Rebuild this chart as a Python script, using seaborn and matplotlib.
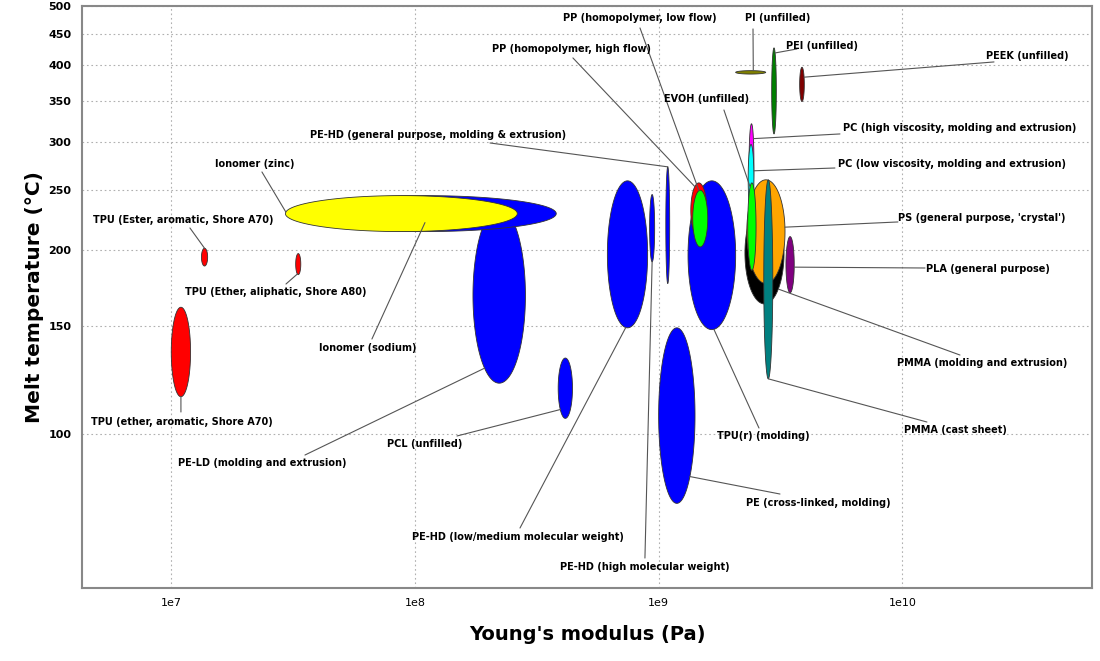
import numpy as np
import matplotlib
matplotlib.use("Agg")
import matplotlib.pyplot as plt
import matplotlib.ticker as mticker
import seaborn as sns

# material property ranges (Young's modulus in Pa, melt temperature in degC), in drawing order
materials = [
    "TPU (ether, aromatic, Shore A70)",
    "TPU (Ester, aromatic, Shore A70)",
    "TPU (Ether, aliphatic, Shore A80)",
    "PE-LD (molding and extrusion)",
    "Ionomer (sodium)",
    "Ionomer (zinc)",
    "PCL (unfilled)",
    "PE-HD (low/medium molecular weight)",
    "PE-HD (high molecular weight)",
    "PE-HD (general purpose, molding & extrusion)",
    "PE (cross-linked, molding)",
    "TPU(r) (molding)",
    "PP (homopolymer, high flow)",
    "PP (homopolymer, low flow)",
    "PMMA (molding and extrusion)",
    "PS (general purpose, 'crystal')",
    "PC (high viscosity, molding and extrusion)",
    "PC (low viscosity, molding and extrusion)",
    "EVOH (unfilled)",
    "PMMA (cast sheet)",
    "PLA (general purpose)",
    "PI (unfilled)",
    "PEI (unfilled)",
    "PEEK (unfilled)",
]
modulus_low = [1.0e7, 1.33e7, 3.24e7, 1.73e8, 3.18e7, 2.94e7, 3.87e8, 6.16e8, 9.18e8, 1.07e9,
               1.0e9, 1.32e9, 1.355e9, 1.38e9, 2.26e9, 2.30e9, 2.35e9, 2.33e9, 2.32e9, 2.70e9,
               3.33e9, 2.07e9, 2.91e9, 3.79e9]
modulus_high = [1.2e7, 1.41e7, 3.40e7, 2.84e8, 3.80e8, 2.63e8, 4.43e8, 9.01e8, 9.63e8, 1.11e9,
                1.41e9, 2.07e9, 1.577e9, 1.59e9, 3.27e9, 3.30e9, 2.46e9, 2.46e9, 2.51e9, 2.94e9,
                3.60e9, 2.75e9, 3.04e9, 3.96e9]
melt_low = [115, 188, 182, 121, 214, 214, 106, 149, 191, 176,
            77, 148, 209, 202, 163, 176, 240, 230, 185, 123,
            170, 387, 309, 349]
melt_high = [161, 201, 197, 234, 245, 245, 133, 259, 246, 273,
             149, 259, 257, 250, 239, 260, 321, 297, 257, 260,
             210, 392, 427, 397]

colors = ["#ff0000", "#ff0000", "#ff0000", "#0000ff", "#0000ff", "#ffff00", "#0000ff", "#0000ff",
          "#0000ff", "#0000ff", "#0000ff", "#0000ff", "#ff0000", "#00ff00", "#000000", "#ffa500",
          "#ff00ff", "#00ffff", "#00ff00", "#008080", "#800080", "#808000", "#008000", "#800000"]

# label layout: text position and leader start (axes fraction), leader end as angle/radius on ellipse
labels = [
    ("PP (homopolymer, low flow)", (0.5525, 0.9794), (0.5525, 0.9622), 100, 1.0, "center"),
    ("PI (unfilled)", (0.6891, 0.9794), (0.6644, 0.9605), 80, 1.0, "center"),
    ("PEI (unfilled)", (0.7327, 0.9313), (0.7079, 0.9261), 62, 1.0, "center"),
    ("PEEK (unfilled)", (0.9356, 0.9141), (0.9030, 0.9038), 25, 1.0, "center"),
    ("PP (homopolymer, high flow)", (0.4851, 0.9261), (0.4861, 0.9107), 120, 1.0, "center"),
    ("EVOH (unfilled)", (0.6188, 0.8402), (0.6356, 0.8213), 115, 1.0, "center"),
    ("PC (high viscosity, molding and extrusion)", (0.7535, 0.7904), (0.7505, 0.7801), 38, 1.0, "left"),
    ("PC (low viscosity, molding and extrusion)", (0.7485, 0.7285), (0.7455, 0.7216), 13, 1.0, "left"),
    ("PE-HD (general purpose, molding & extrusion)", (0.3525, 0.7784), (0.4040, 0.7646), 90, 1.0, "center"),
    ("Ionomer (zinc)", (0.1713, 0.7285), (0.1782, 0.7148), 175, 1.0, "center"),
    ("TPU (Ester, aromatic, Shore A70)", (0.1000, 0.6323), (0.1069, 0.6186), 90, 1.0, "center"),
    ("TPU (Ether, aliphatic, Shore A80)", (0.1921, 0.5086), (0.2020, 0.5223), 250, 1.0, "center"),
    ("TPU (ether, aromatic, Shore A70)", (0.0990, 0.2852), (0.0980, 0.3024), 270, 1.0, "center"),
    ("Ionomer (sodium)", (0.2832, 0.4124), (0.2871, 0.4278), 270, 0.5, "center"),
    ("PE-LD (molding and extrusion)", (0.1782, 0.2148), (0.2208, 0.2285), 236, 1.0, "center"),
    ("PCL (unfilled)", (0.3396, 0.2474), (0.3713, 0.2612), 225, 1.0, "center"),
    ("PE-HD (low/medium molecular weight)", (0.4317, 0.0876), (0.4337, 0.1031), 265, 1.0, "center"),
    ("PE-HD (high molecular weight)", (0.5574, 0.0361), (0.5574, 0.0515), 270, 1.0, "center"),
    ("PE (cross-linked, molding)", (0.7287, 0.1460), (0.6911, 0.1615), 316, 1.0, "center"),
    ("TPU(r) (molding)", (0.6743, 0.2612), (0.6703, 0.2749), 275, 1.0, "center"),
    ("PMMA (cast sheet)", (0.8644, 0.2715), (0.8366, 0.2852), 270, 1.0, "center"),
    ("PMMA (molding and extrusion)", (0.8911, 0.3866), (0.8693, 0.4003), 315, 1.0, "center"),
    ("PLA (general purpose)", (0.8970, 0.5481), (0.8347, 0.5498), 355, 1.0, "center"),
    ("PS (general purpose, 'crystal')", (0.8911, 0.6357), (0.8079, 0.6289), 5, 1.0, "center"),
]

sns.set_style("white")
plt.rcParams['font.family'] = ['DejaVu Sans']

fig, ax = plt.subplots(figsize=(11, 6.61), dpi=100)
fig.subplots_adjust(left=0.0745, right=0.9927, bottom=0.1104, top=0.991)
ax.set_xscale("log")
ax.set_yscale("log")

theta = np.linspace(0, 2 * np.pi, 300)
geom = {}
for name, elo, ehi, tlo, thi, c in zip(materials, modulus_low, modulus_high, melt_low, melt_high, colors):
    cx = (np.log10(elo) + np.log10(ehi)) / 2
    rx = (np.log10(ehi) - np.log10(elo)) / 2
    cy = (np.log10(tlo) + np.log10(thi)) / 2
    ry = (np.log10(thi) - np.log10(tlo)) / 2
    geom[name] = (cx, rx, cy, ry)
    ax.fill(10 ** (cx + rx * np.cos(theta)), 10 ** (cy + ry * np.sin(theta)),
            facecolor=c, edgecolor="#333333", lw=0.6, zorder=3)

for name, txy, sxy, ang, r, ha in labels:
    cx, rx, cy, ry = geom[name]
    a = np.deg2rad(ang)
    end = (10 ** (cx + r * rx * np.cos(a)), 10 ** (cy + r * ry * np.sin(a)))
    ax.annotate("", xy=end, xycoords="data", xytext=sxy, textcoords="axes fraction",
                arrowprops=dict(arrowstyle="-", color="#555555", lw=0.8, shrinkA=0, shrinkB=0),
                zorder=4)
    ax.text(txy[0], txy[1], name, transform=ax.transAxes, ha=ha, va="center",
            fontsize=7, fontweight="bold", color="black", zorder=5)

ax.set_xlim(4.3e6, 6e10)
ax.set_ylim(56, 500)

ax.xaxis.set_major_locator(mticker.FixedLocator([1e7, 1e8, 1e9, 1e10]))
ax.xaxis.set_major_formatter(mticker.FixedFormatter(["1e7", "1e8", "1e9", "1e10"]))
ax.xaxis.set_minor_locator(mticker.LogLocator(base=10, subs=np.arange(2, 10)))
ax.xaxis.set_minor_formatter(mticker.NullFormatter())

yt = list(range(100, 501, 50))
ax.yaxis.set_major_locator(mticker.FixedLocator(yt))
ax.yaxis.set_major_formatter(mticker.FixedFormatter([str(v) for v in yt]))
ax.yaxis.set_minor_locator(mticker.FixedLocator([v for v in range(60, 500, 10) if v not in yt]))
ax.yaxis.set_minor_formatter(mticker.NullFormatter())

ax.grid(True, which="major", color="#b0b0b0", linestyle=(0, (1.5, 2.5)), lw=0.8, zorder=0)
ax.set_axisbelow(True)

for sp in ax.spines.values():
    sp.set_color("#888888")
    sp.set_linewidth(1.5)

ax.tick_params(axis="both", which="major", direction="out", length=4, width=0.8, color="#555555",
               labelcolor="black", labelsize=8)
ax.tick_params(axis="both", which="minor", direction="out", length=2, width=0.6, color="#555555")
for lab in ax.get_yticklabels():
    lab.set_fontweight("bold")

ax.set_xlabel("Young's modulus (Pa)", fontsize=14, fontweight="bold", color="black", labelpad=12)
ax.set_ylabel("Melt temperature (\u00b0C)", fontsize=14.5, fontweight="bold", color="black", labelpad=3)

fig.savefig("out.png", dpi=100)
